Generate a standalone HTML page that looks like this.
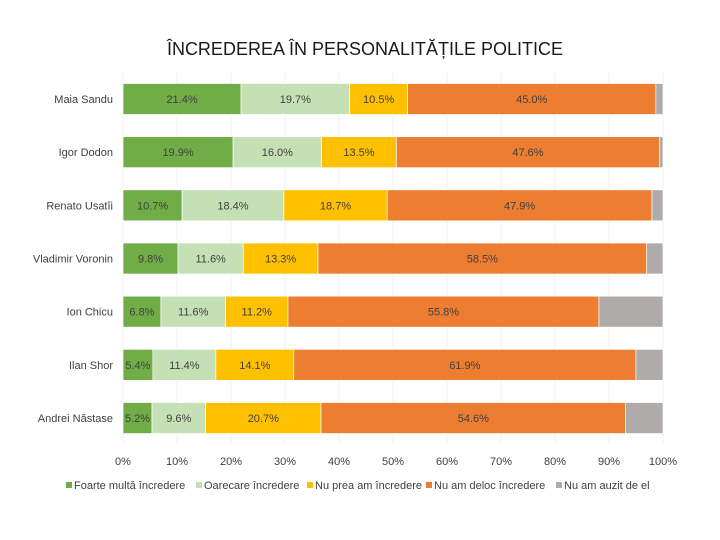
<!DOCTYPE html>
<html><head><meta charset="utf-8"><style>
body{margin:0;background:#fff;font-family:"Liberation Sans",sans-serif;}
svg{display:block}
</style></head><body>
<svg id="chart" width="720" height="540" xmlns="http://www.w3.org/2000/svg">
<text x="365" y="55" text-anchor="middle" font-size="18" fill="#1a1a1a">ÎNCREDEREA ÎN PERSONALITĂȚILE POLITICE</text>
<g id="grid"></g><g id="bars"></g><g id="ylabels"></g><g id="xticks"></g><g id="legend"></g>
</svg>
<script>
const people=["Maia Sandu","Igor Dodon","Renato Usatîi","Vladimir Voronin","Ion Chicu","Ilan Shor","Andrei Năstase"];
const foarte=[21.4,19.9,10.7,9.8,6.8,5.4,5.2];
const oarecare=[19.7,16.0,18.4,11.6,11.6,11.4,9.6];
const nuPrea=[10.5,13.5,18.7,13.3,11.2,14.1,20.7];
const deloc=[45.0,47.6,47.9,58.5,55.8,61.9,54.6];
const nuAuzit=[1.3,0.6,2.0,2.9,11.5,4.9,6.7];
const seriesNames=["Foarte multă încredere","Oarecare încredere","Nu prea am încredere","Nu am deloc încredere","Nu am auzit de el"];
const xTicks=[0,10,20,30,40,50,60,70,80,90,100];
const series=[foarte,oarecare,nuPrea,deloc,nuAuzit];
const colors=["#70AD47","#C5E0B4","#FFC000","#ED7D31","#AFABAB"];
const NS="http://www.w3.org/2000/svg";
const X0=123,X1=663,Y0=99,DY=53.17,BH=31;
const xs=v=>X0+(X1-X0)*v/100;
const ys=i=>Y0+i*DY;
function mk(t,a,p){const e=document.createElementNS(NS,t);for(const k in a)e.setAttribute(k,a[k]);document.getElementById(p).appendChild(e);return e;}
xTicks.forEach(t=>{
 const l=mk("line",{x1:xs(t),x2:xs(t),y1:72,y2:443,stroke:"#f2f2f2","stroke-width":1},"grid");
 
 
 const tx=mk("text",{x:xs(t),y:465,"text-anchor":"middle","font-size":11,fill:"#404040"},"xticks");
 tx.textContent=t+"%";
 
 
});
people.forEach((p,i)=>{
 const tot=series.reduce((s,a)=>s+a[i],0);
 let acc=0;
 const lb=mk("text",{x:113,y:ys(i)+4,"text-anchor":"end","font-size":11,fill:"#404040"},"ylabels");
 lb.textContent=p;
 
 
 series.forEach((s,k)=>{
  const v=s[i]/tot*100;
  const r=mk("rect",{x:xs(acc),y:ys(i)-BH/2,width:xs(acc+v)-xs(acc),height:BH,fill:colors[k],stroke:"#fff","stroke-width":0.7},"bars");
  
  
  if(k<4){
   const t=mk("text",{x:xs(acc+v/2),y:ys(i)+4,"text-anchor":"middle","font-size":11,fill:"#404040"},"bars");
   t.textContent=s[i].toFixed(1)+"%";
   
   
  }
  acc+=v;
 });
});
const lx=[66,196,307,426,556];
seriesNames.forEach((n,k)=>{
 const r=mk("rect",{x:lx[k],y:482,width:6,height:6,fill:colors[k]},"legend");
 
 
 const t=mk("text",{x:lx[k]+8,y:489,"font-size":11,fill:"#404040"},"legend");
 t.textContent=n;
 
 
});
</script>
</body></html>
